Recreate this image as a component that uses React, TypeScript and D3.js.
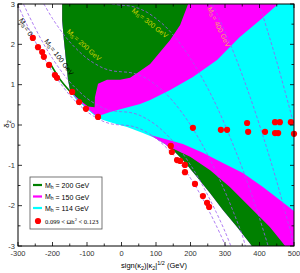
import React from 'react';
import * as d3 from 'd3';

type P = [number, number];

const X_TICKS = [-300, -200, -100, 0, 100, 200, 300, 400, 500];
const Y_TICKS = [-3, -2, -1, 0, 1, 2, 3];

// boundary of the white (no-solution) region, from top-left to bottom-right
const whiteBoundary: P[] = [
  [-172, 3.0], [-172, 2.6], [-167, 2.11], [-161, 1.61], [-155, 1.12], [-149, 0.83],
  [-132, 0.64], [-114, 0.5], [-97, 0.37], [-83, 0.27], [-68, 0.17], [-33, 0.07],
  [16, -0.05], [62, -0.2], [97, -0.32], [126, -0.47], [155, -0.67], [178, -0.87],
  [219, -1.29], [257, -1.69], [294, -2.11], [335, -2.53], [372, -2.93], [378, -3.0],
];
const leftEdge: P[] = [[-155, 1.12], [-161, 1.61], [-167, 2.11], [-172, 2.6], [-172, 3.0]];

// Mh = 150 region (upper): magenta / cyan boundary then lower edge
const magentaUpper: P[] = [
  [454, 3.0], [401, 2.6], [343, 2.18], [277, 1.61], [207, 1.19], [141, 0.87], [83, 0.62],
  [54, 0.52], [10, 0.42], [-33, 0.32], [-71, 0.21], [-83, 0.3], [-97, 0.4], [-114, 0.53],
  [-132, 0.67], [-149, 0.85],
];
// Mh = 150 region (lower band): top edge
const magentaLowerTop: P[] = [
  [83, -0.25], [126, -0.35], [178, -0.47], [236, -0.69], [294, -0.94], [352, -1.19],
  [410, -1.54], [459, -1.86], [500, -2.13],
];
// Mh = 200 region (upper): green / magenta boundary then lower edge
const greenUpper: P[] = [
  [193, 3.0], [170, 2.48], [141, 2.11], [112, 1.81], [83, 1.51], [54, 1.34], [25, 1.17],
  [-4, 1.12], [-42, 1.12], [-68, 1.02], [-77, 0.69], [-78, 0.44], [-97, 0.46],
  [-114, 0.57], [-132, 0.7], [-149, 0.87],
];
// Mh = 200 region (lower band): top edge
const greenLowerTop: P[] = [
  [106, -0.37], [141, -0.55], [199, -0.79], [257, -1.12], [314, -1.54], [372, -2.03],
  [430, -2.53], [468, -2.93], [474, -3.0],
];
const greenSliver: P[] = [[-205, 1.5], [-178, 1.13], [-149, 0.83]];

// M_S contours
const ms0: P[] = [
  [-300, 2.97], [-275, 2.5], [-250, 2.07], [-225, 1.67], [-200, 1.32], [-175, 1.01],
  [-150, 0.74], [-125, 0.52], [-100, 0.33], [-75, 0.19], [-50, 0.08], [-25, 0.02], [0, 0],
  [25, -0.02], [50, -0.08], [75, -0.19], [100, -0.33], [125, -0.52], [150, -0.74],
  [175, -1.01], [200, -1.32], [225, -1.67], [250, -2.07], [275, -2.5], [302, -3.0],
];
const ms100: P[] = [
  [-284, 3.0], [-275, 2.83], [-250, 2.4], [-225, 2.0], [-200, 1.65], [-175, 1.34],
  [-150, 1.07], [-125, 0.85], [-100, 0.66], [-75, 0.52], [-50, 0.41], [-25, 0.35], [0, 0.33],
  [25, 0.31], [50, 0.25], [75, 0.14], [100, 0], [125, -0.19], [150, -0.41], [175, -0.68],
  [200, -0.99], [225, -1.34], [250, -1.74], [275, -2.17], [300, -2.64], [317, -3.0],
];
const ms200: P[] = [
  [-225, 3.0], [-200, 2.64], [-175, 2.33], [-150, 2.06], [-125, 1.84], [-100, 1.65],
  [-75, 1.51], [-50, 1.4], [-25, 1.34], [0, 1.32], [25, 1.3], [50, 1.24], [75, 1.14],
  [100, 0.99], [125, 0.81], [150, 0.58], [175, 0.31], [200, 0], [225, -0.35], [250, -0.74],
  [275, -1.18], [300, -1.65], [325, -2.17], [350, -2.73], [359, -3.0],
];
const ms300: P[] = [
  [-28, 3.0], [0, 2.97], [25, 2.95], [50, 2.89], [75, 2.79], [100, 2.64], [125, 2.46],
  [150, 2.23], [175, 1.96], [200, 1.65], [225, 1.3], [250, 0.91], [275, 0.48], [300, 0],
  [325, -0.52], [350, -1.07], [375, -1.67], [400, -2.31], [425, -3.0],
];
const ms400: P[] = [
  [263, 3.0], [275, 2.79], [300, 2.31], [325, 1.8], [350, 1.24], [375, 0.64], [400, 0],
  [425, -0.68], [450, -1.4], [475, -2.17], [500, -2.97],
];
const ms500: P[] = [[399, 3.0], [425, 2.29], [450, 1.57], [475, 0.8], [500, 0]];

// relic density points 0.099 < Ωh² < 0.123
const relicX = [
  -257, -242, -230, -225, -210, -193, -187, -143, -123, -103, -68,
  207, 288, 306, 364, 367, 416, 445, 459, 445, 454, 491, 500,
  143, 146, 161, 170, 184, 184, 213, 236, 248, 254,
];
const relicY = [
  2.16, 1.93, 1.81, 1.69, 1.49, 1.24, 1.17, 0.82, 0.57, 0.4, 0.2,
  -0.07, -0.12, -0.12, 0.05, -0.17, -0.17, 0.07, 0.07, -0.2, -0.2, 0.07, -0.22,
  -0.52, -0.67, -0.87, -0.89, -0.99, -1.17, -1.46, -1.76, -1.93, -2.03,
];

const legendItems = [
  { label: '200', color: '#008000' },
  { label: '150', color: '#ff00ff' },
  { label: '114', color: '#00ffff' },
];

const GREEN = '#008000';
const MAGENTA = '#ff00ff';
const CYAN = '#00ffff';
const PURPLE = '#9a5cf0';
const SANS = '"Liberation Sans", Arial, sans-serif';

export default function App() {
  const x = d3.scaleLinear().domain([-300, 500]).range([18, 294]);
  const y = d3.scaleLinear().domain([-3, 3]).range([246, 4]);
  const lin = d3.line<P>().x((d) => x(d[0])).y((d) => y(d[1]));
  const smooth = d3.line<P>().x((d) => x(d[0])).y((d) => y(d[1])).curve(d3.curveCatmullRom);
  const poly = (pts: P[]) => (lin(pts) || '') + 'Z';

  const cyanPoly: P[] = [...whiteBoundary, [500, -3], [500, 3]];
  const magUpPoly: P[] = [[-172, 3], ...magentaUpper, ...leftEdge];
  const wLowerFrom = (x0: number) => whiteBoundary.filter((p) => p[0] >= x0).slice().reverse();
  const magLowPoly: P[] = [...magentaLowerTop, [500, -3], ...wLowerFrom(83)];
  const grUpPoly: P[] = [[-172, 3], ...greenUpper, ...leftEdge];
  const grLowPoly: P[] = [...greenLowerTop, ...wLowerFrom(106)];

  const [x0, x1] = x.range();
  const [yb, yt] = y.range();

  const xMinor = d3.range(-300, 501, 50);
  const yMinor = d3.range(-3, 3.01, 0.5);

  const contours = [ms0, ms100, ms200, ms300, ms400, ms500];

  const sub = (s: string, fs = 5) => (
    <>
      <tspan dy={1.6} fontSize={fs}>{s}</tspan>
      <tspan dy={-1.6}>{'\u200A'}</tspan>
    </>
  );

  return (
    <svg width={300} height={273} style={{ position: 'absolute', left: 0, top: 0, background: '#fff' }}
      fontFamily={SANS}>
      <defs>
        <clipPath id="plot">
          <rect x={x0} y={yt} width={x1 - x0} height={yb - yt} />
        </clipPath>
      </defs>
      <g clipPath="url(#plot)">
        <path d={poly(cyanPoly)} fill={CYAN} />
        <path d={poly(magUpPoly)} fill={MAGENTA} />
        <path d={poly(magLowPoly)} fill={MAGENTA} />
        <path d={poly(grUpPoly)} fill={GREEN} />
        <path d={poly(grLowPoly)} fill={GREEN} />
        <path d={smooth(greenSliver) || ''} fill="none" stroke={GREEN} strokeWidth={1.6} />
        {contours.map((c, i) => (
          <path key={i} d={smooth(c) || ''} fill="none" stroke={PURPLE} strokeWidth={0.8}
            strokeDasharray="3,2" />
        ))}
      </g>

      {/* contour labels */}
      <g fontSize={7}>
        <text transform="translate(26,27) rotate(58)" textAnchor="middle" dominantBaseline="central" fill="#000">
          M{sub('S')}= 0
        </text>
        <text transform="translate(59,57) rotate(53)" textAnchor="middle" dominantBaseline="central" fill="#000">
          M{sub('S')}= 100 GeV
        </text>
        <text transform="translate(84,45) rotate(42)" textAnchor="middle" dominantBaseline="central" fill="#d4d400">
          M{sub('S')}= 200 GeV
        </text>
        <text transform="translate(150,23) rotate(38)" textAnchor="middle" dominantBaseline="central" fill="#d4d400">
          M{sub('S')}= 300 GeV
        </text>
        <text transform="translate(219,27) rotate(64)" textAnchor="middle" dominantBaseline="central" fill="#f6b060">
          M{sub('S')}= 400 GeV
        </text>
      </g>

      {/* relic points */}
      {relicX.map((v, i) => (
        <circle key={i} cx={x(v)} cy={y(relicY[i])} r={3.1} fill="#ff0000" />
      ))}

      {/* frame & ticks */}
      <rect x={x0} y={yt} width={x1 - x0} height={yb - yt} fill="none" stroke="#000" strokeWidth={1} />
      {xMinor.map((v) => {
        const len = v % 100 === 0 ? 4 : 2.5;
        return (
          <g key={'xt' + v} stroke="#000" strokeWidth={0.8}>
            <line x1={x(v)} x2={x(v)} y1={yb} y2={yb - len} />
            <line x1={x(v)} x2={x(v)} y1={yt} y2={yt + len} />
          </g>
        );
      })}
      {yMinor.map((v) => {
        const len = Math.abs(v % 1) < 1e-6 ? 4 : 2.5;
        return (
          <g key={'yt' + v} stroke="#000" strokeWidth={0.8}>
            <line x1={x0} x2={x0 + len} y1={y(v)} y2={y(v)} />
            <line x1={x1} x2={x1 - len} y1={y(v)} y2={y(v)} />
          </g>
        );
      })}
      {X_TICKS.map((v) => (
        <text key={'xl' + v} x={x(v)} y={256} textAnchor="middle" fontSize={7.5} fill="#333">{v}</text>
      ))}
      {Y_TICKS.map((v) => (
        <text key={'yl' + v} x={15} y={y(v)} textAnchor="end" dominantBaseline="central" fontSize={7.5} fill="#333">{v}</text>
      ))}

      {/* axis titles */}
      <text x={154} y={268} textAnchor="middle" fontSize={7.5} fill="#000">
        sign(κ<tspan dy={1.6} fontSize={5.5}>2</tspan><tspan dy={-1.6}>)|κ</tspan>
        <tspan dy={1.6} fontSize={5.5}>2</tspan><tspan dy={-1.6}>|</tspan>
        <tspan dy={-3} fontSize={5.5}>1/2</tspan><tspan dy={3}> (GeV)</tspan>
      </text>
      <text transform="translate(9,124) rotate(-90)" textAnchor="middle" fontSize={8} fill="#000">
        δ<tspan dy={1.6} fontSize={5.5}>2</tspan>
      </text>

      {/* legend */}
      <rect x={30} y={177} width={72} height={52} fill="#fff" stroke="#555" strokeWidth={0.8} />
      {legendItems.map((it, i) => {
        const yy = 185 + i * 11.5;
        return (
          <g key={it.label}>
            <line x1={33} x2={42} y1={yy} y2={yy} stroke={it.color} strokeWidth={2.2} />
            <text x={45} y={yy} dominantBaseline="central" fontSize={7} fill="#000">
              M<tspan dy={1.6} fontSize={5}>h</tspan><tspan dy={-1.6}> = {it.label} GeV</tspan>
            </text>
          </g>
        );
      })}
      <circle cx={38} cy={221} r={3.1} fill="#ff0000" />
      <text x={45} y={223.5} fontSize={6.5} fill="#000" fontFamily='"Liberation Serif", serif'>
        0.099 &lt; Ωh<tspan dy={-2.5} fontSize={4.5}>2</tspan><tspan dy={2.5}> &lt; 0.123</tspan>
      </text>
    </svg>
  );
}
